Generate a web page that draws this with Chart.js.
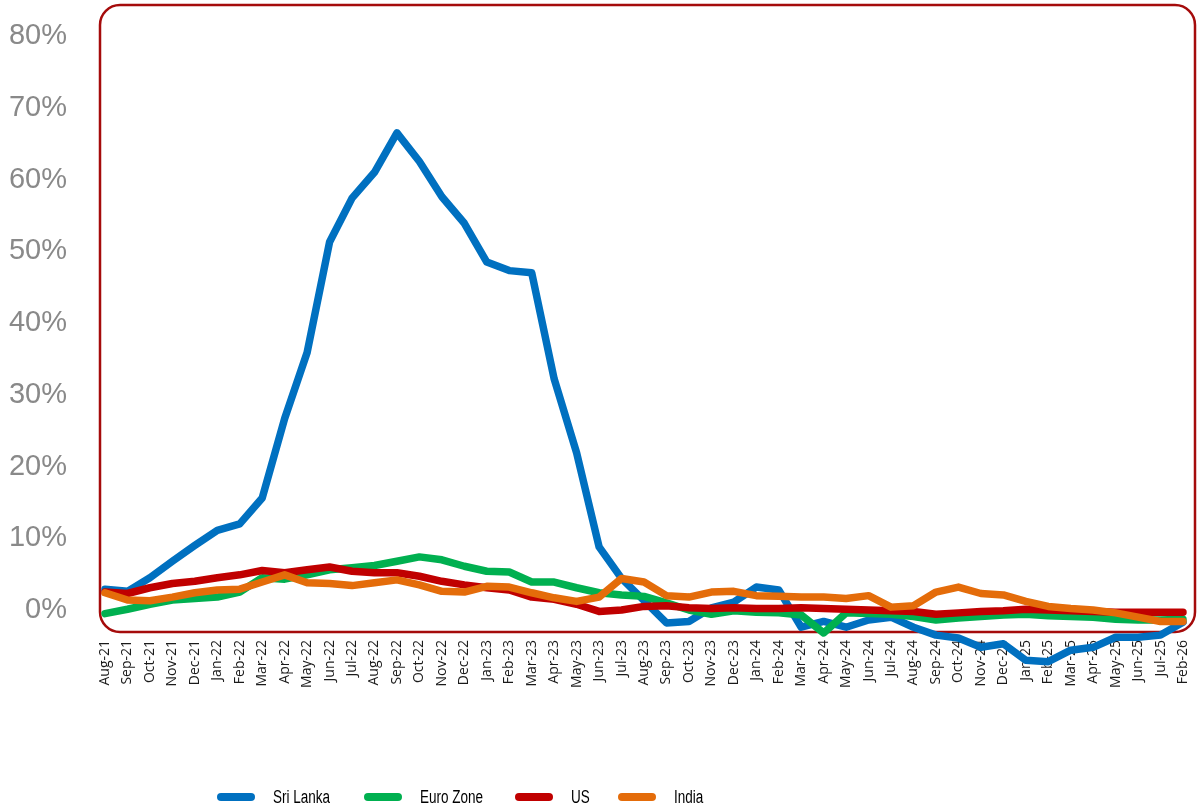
<!DOCTYPE html>
<html>
<head>
<meta charset="utf-8">
<script src="https://cdn.jsdelivr.net/npm/chart.js@4.4.1/dist/chart.umd.min.js"></script>
<style>
  body { margin: 0; background: #fff; }
  #wrap { position: relative; width: 1197px; height: 809px; }
  #legend {
    position: absolute; left: 0; top: 786px; width: 1197px; height: 22px;
    font-family: 'Liberation Sans', Arial, sans-serif;
    font-size: 18px; color: #000;
  }
  #legend .item { position: absolute; top: 0; height: 22px; }
  #legend .swatch { position: absolute; left: 0; top: 7px; width: 38px; height: 8px; border-radius: 4px; }
  #legend .name {
    position: absolute; left: 56px; top: 0; line-height: 22px; white-space: nowrap;
    transform: scaleX(0.75); transform-origin: left center;
  }
</style>
</head>
<body>
<div id="wrap">
  <canvas id="inflationChart" width="1197" height="809"></canvas>
  <div id="legend"></div>
</div>
<script>
// month labels as printed on the axis (the last one jumps to Feb-26)
const months = [
  'Aug-21', 'Sep-21', 'Oct-21', 'Nov-21', 'Dec-21',
  'Jan-22', 'Feb-22', 'Mar-22', 'Apr-22', 'May-22', 'Jun-22', 'Jul-22', 'Aug-22', 'Sep-22', 'Oct-22', 'Nov-22', 'Dec-22',
  'Jan-23', 'Feb-23', 'Mar-23', 'Apr-23', 'May-23', 'Jun-23', 'Jul-23', 'Aug-23', 'Sep-23', 'Oct-23', 'Nov-23', 'Dec-23',
  'Jan-24', 'Feb-24', 'Mar-24', 'Apr-24', 'May-24', 'Jun-24', 'Jul-24', 'Aug-24', 'Sep-24', 'Oct-24', 'Nov-24', 'Dec-24',
  'Jan-25', 'Feb-25', 'Mar-25', 'Apr-25', 'May-25', 'Jun-25', 'Jul-25', 'Feb-26'
];

const sriLanka = [
  2.9, 2.6, 4.5, 6.8, 9.0, 11.1, 12.0, 15.6, 26.7, 35.9, 51.3, 57.4, 61.0, 66.5, 62.5, 57.6, 53.9,
  48.5, 47.3, 47.0, 32.2, 21.9, 8.8, 4.4, 1.3, -1.8, -1.6, 0.3, 1.1,
  3.2, 2.8, -2.4, -1.6, -2.4, -1.4, -1.0, -2.4, -3.5, -3.9, -5.2, -4.7,
  -7.0, -7.2, -5.6, -5.2, -3.8, -3.8, -3.5, -1.7
];
const euroZone = [
  -0.5, 0.1, 0.8, 1.4, 1.6, 1.8, 2.5, 4.5, 4.3, 4.9, 5.6, 5.9, 6.2, 6.8, 7.4, 7.0, 6.1,
  5.4, 5.3, 3.9, 3.9, 3.1, 2.4, 2.1, 1.9, 1.0, 0.0, -0.6, -0.1,
  -0.3, -0.4, -0.7, -3.2, -0.4, -0.5, -0.6, -0.9, -1.4, -1.1, -0.9, -0.7,
  -0.6, -0.8, -0.9, -1.0, -1.3, -1.4, -1.4, -1.3
];
const us = [
  2.5, 2.3, 3.1, 3.7, 4.0, 4.5, 4.9, 5.5, 5.2, 5.6, 6.0, 5.4, 5.2, 5.2, 4.7, 4.0, 3.5,
  3.1, 2.8, 1.8, 1.5, 0.8, -0.2, 0.0, 0.5, 0.6, 0.3, 0.2, 0.3,
  0.2, 0.2, 0.3, 0.2, 0.1, 0.0, -0.1, -0.2, -0.6, -0.4, -0.2, -0.1,
  0.1, 0.0, -0.1, -0.2, -0.3, -0.3, -0.3, -0.3
];
const india = [
  2.4, 1.4, 1.3, 1.8, 2.4, 2.8, 2.9, 3.9, 4.9, 3.8, 3.7, 3.4, 3.8, 4.2, 3.5, 2.6, 2.5,
  3.3, 3.2, 2.4, 1.7, 1.2, 1.8, 4.4, 3.9, 2.0, 1.8, 2.5, 2.6,
  2.0, 1.9, 1.8, 1.8, 1.6, 2.0, 0.4, 0.6, 2.5, 3.2, 2.3, 2.1,
  1.2, 0.5, 0.2, 0.0, -0.4, -1.0, -1.6, -1.6
];

const yTicks = [0, 10, 20, 30, 40, 50, 60, 70, 80];

const series = [
  { name: 'Sri Lanka', data: sriLanka, color: '#0070C0', order: 4, legendX: 217 },
  { name: 'Euro Zone', data: euroZone, color: '#00B050', order: 3, legendX: 364 },
  { name: 'US', data: us, color: '#C00000', order: 2, legendX: 515 },
  { name: 'India', data: india, color: '#E46C0A', order: 1, legendX: 618 }
];

// rounded dark red frame around the plot, like the Excel chart
const frameBorder = {
  id: 'frameBorder',
  beforeDatasetsDraw(chart) {
    const { ctx, chartArea: a } = chart;
    ctx.save();
    ctx.strokeStyle = '#A50B0B';
    ctx.lineWidth = 2.5;
    ctx.beginPath();
    ctx.roundRect(a.left - 5, a.top - 31, a.right - a.left + 17, a.bottom - a.top + 53, 20);
    ctx.stroke();
    ctx.restore();
  }
};

new Chart(document.getElementById('inflationChart'), {
  type: 'line',
  data: {
    labels: months,
    datasets: series.map(s => ({
      label: s.name,
      data: s.data,
      borderColor: s.color,
      backgroundColor: s.color,
      borderWidth: 7.5,
      borderJoinStyle: 'round',
      borderCapStyle: 'round',
      pointRadius: 0,
      tension: 0,
      clip: false,
      order: s.order
    }))
  },
  options: {
    responsive: false,
    animation: false,
    layout: { padding: { top: 36, left: 0, right: 14, bottom: 99 } },
    plugins: {
      legend: { display: false },
      tooltip: { enabled: false }
    },
    scales: {
      x: {
        grid: { display: false, drawTicks: false },
        border: { display: false },
        ticks: {
          autoSkip: false,
          minRotation: 90,
          maxRotation: 90,
          padding: 30,
          color: '#1a1a1a',
          font: { family: "'Open Sans', sans-serif", size: 14 }
        },
        afterFit: (scale) => {
          scale.height = 100;
          scale.paddingLeft = 0;
          scale.paddingRight = 0;
        }
      },
      y: {
        min: yTicks[0],
        max: yTicks[yTicks.length - 1],
        grid: { display: false, drawTicks: false },
        border: { display: false },
        afterBuildTicks: (scale) => { scale.ticks = yTicks.map(v => ({ value: v })); },
        ticks: {
          padding: 38,
          color: '#898989',
          font: { family: "'Liberation Sans', Arial, sans-serif", size: 29 },
          callback: (v) => v + '%'
        },
        afterFit: (scale) => {
          scale.width = 105;
          scale.paddingTop = 0;
          scale.paddingBottom = 0;
        }
      }
    }
  },
  plugins: [frameBorder]
});

const legendEl = document.getElementById('legend');
series.forEach(s => {
  const item = document.createElement('div');
  item.className = 'item';
  item.style.left = s.legendX + 'px';
  item.innerHTML = '<span class="swatch" style="background:' + s.color + '"></span><span class="name">' + s.name + '</span>';
  legendEl.appendChild(item);
});
</script>
</body>
</html>
